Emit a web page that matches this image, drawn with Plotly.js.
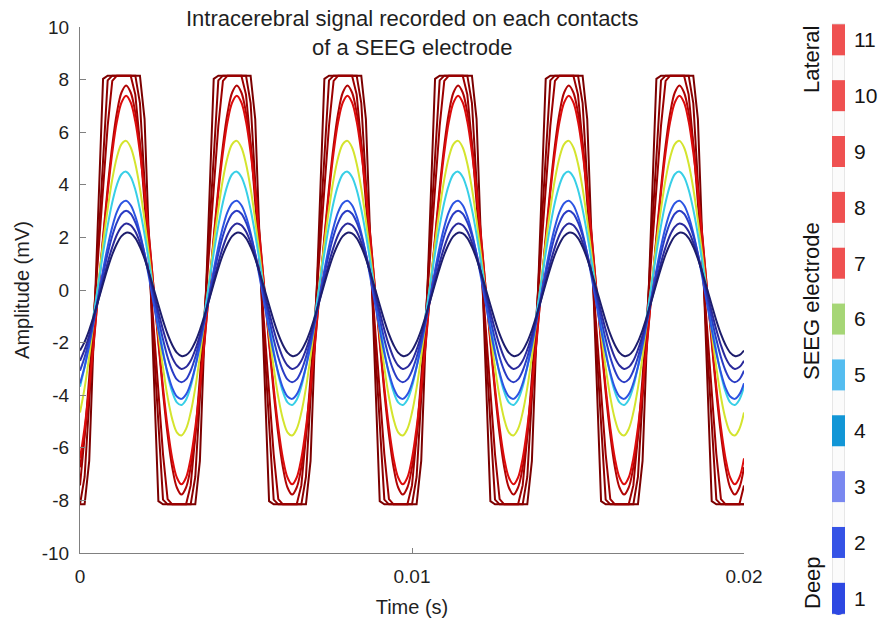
<!DOCTYPE html>
<html>
<head>
<meta charset="utf-8">
<script src="https://cdn.plot.ly/plotly-3.0.1.min.js"></script>
<style>
html,body{margin:0;padding:0;background:#ffffff;}
#chart{width:884px;height:624px;}
</style>
</head>
<body>
<div id="chart"></div>
<script>
// One recorded cycle (1/300 s, 24 samples, starting at t = 0) per contact, in mV
const contact1  = [-2.30,-1.97,-1.52,-0.97,-0.37,0.24,0.83,1.35,1.76,2.05,2.18,2.15,1.97,1.64,1.19,0.64,0.04,-0.57,-1.16,-1.68,-2.09,-2.38,-2.51,-2.48];
const contact2  = [-2.69,-2.27,-1.72,-1.07,-0.36,0.36,1.04,1.63,2.10,2.40,2.53,2.46,2.22,1.80,1.25,0.60,-0.11,-0.83,-1.51,-2.10,-2.57,-2.87,-3.00,-2.93];
const contact3  = [-3.07,-2.56,-1.88,-1.09,-0.25,0.59,1.38,2.06,2.57,2.90,3.01,2.90,2.57,2.06,1.38,0.59,-0.25,-1.09,-1.88,-2.56,-3.07,-3.40,-3.51,-3.40];
const contact4  = [-3.55,-2.92,-2.11,-1.19,-0.21,0.76,1.65,2.40,2.97,3.30,3.39,3.22,2.80,2.17,1.36,0.44,-0.54,-1.51,-2.40,-3.15,-3.72,-4.05,-4.14,-3.97];
const contact5  = [-3.68,-2.93,-1.98,-0.90,0.26,1.40,2.45,3.34,4.00,4.40,4.50,4.30,3.81,3.06,2.11,1.03,-0.13,-1.27,-2.32,-3.21,-3.87,-4.27,-4.37,-4.17];
const contact6  = [-4.66,-3.72,-2.52,-1.14,0.32,1.76,3.08,4.21,5.05,5.55,5.67,5.42,4.80,3.86,2.66,1.28,-0.18,-1.62,-2.94,-4.07,-4.91,-5.41,-5.53,-5.28];
const contact7  = [-6.40,-5.22,-3.69,-1.91,0.00,1.91,3.69,5.22,6.40,7.13,7.39,7.13,6.40,5.22,3.69,1.91,0.00,-1.91,-3.69,-5.22,-6.40,-7.13,-7.39,-7.13];
const contact8  = [-6.74,-5.50,-3.89,-2.01,0.00,2.01,3.89,5.50,6.74,7.51,7.78,7.51,6.74,5.50,3.89,2.01,0.00,-2.01,-3.89,-5.50,-6.74,-7.51,-7.78,-7.51];
const contact9  = [-7.43,-5.56,-3.32,-0.85,1.68,4.10,6.24,7.95,8.15,8.15,8.15,8.15,7.43,5.56,3.32,0.85,-1.68,-4.10,-6.24,-7.95,-8.15,-8.15,-8.15,-8.15];
const contact10 = [-8.15,-7.11,-4.24,-1.08,2.15,5.24,7.97,8.15,8.15,8.15,8.15,8.15,8.15,7.11,4.24,1.08,-2.15,-5.24,-7.97,-8.15,-8.15,-8.15,-8.15,-8.15];
const contact11 = [-8.15,-8.15,-6.50,-1.66,3.30,8.03,8.15,8.15,8.15,8.15,8.15,8.15,8.15,8.15,6.50,1.66,-3.30,-8.03,-8.15,-8.15,-8.15,-8.15,-8.15,-8.15];

const contactNumbers = [1,2,3,4,5,6,7,8,9,10,11];
const cycleDuration = 1/300;   // s
const cycleCount = 6;
const xTickValues = [0, 0.01, 0.02];
const xTickLabels = ['0', '0.01', '0.02'];
const yTickValues = [-10,-8,-6,-4,-2,0,2,4,6,8,10];
const yTickLabels = ['-10','-8','-6','-4','-2','0','2','4','6','8','10'];
const electrodeSideLabels = ['Lateral', 'SEEG electrode', 'Deep'];
const chartTitle = 'Intracerebral signal recorded on each contacts<br>of a SEEG electrode';

// ---- styles ----
const curveColors = ['#1d1d6c','#2a2a9c','#2a3cc4','#2c54e2','#38cfe6','#d4e42e','#dc0c0c','#b00404','#9c0000','#8c0000','#7c0000'];
const contactColors = ['#2d48e2','#3553e6','#7a88f0','#1296d6','#55bdf0','#a6d676','#ef5151','#ef5151','#ef5151','#ef5151','#ef5151'];
const FONT = '"Liberation Sans", Arial, Helvetica, sans-serif';
const TXT = '#1f1f1f';

const cycles = [contact1,contact2,contact3,contact4,contact5,contact6,contact7,contact8,contact9,contact10,contact11];

function buildSeries(cycle) {
  const n = cycle.length;
  const t = [], v = [];
  for (let c = 0; c < cycleCount; c++) {
    for (let k = 0; k < n; k++) {
      t.push((c * n + k) * cycleDuration / n);
      v.push(cycle[k]);
    }
  }
  t.push(cycleCount * cycleDuration);
  v.push(cycle[0]);
  return {t, v};
}

const traces = [];
for (let i = cycles.length - 1; i >= 0; i--) {
  const s = buildSeries(cycles[i]);
  const clipped = i >= 8;
  traces.push({
    type: 'scatter', mode: 'lines', x: s.t, y: s.v,
    xaxis: 'x', yaxis: 'y',
    line: {color: curveColors[i], width: 2, shape: clipped ? 'linear' : 'spline', smoothing: 1},
    name: 'Contact ' + contactNumbers[i], showlegend: false, hoverinfo: 'skip'
  });
}

// electrode contacts as bars on a side axis
traces.push({
  type: 'bar', orientation: 'h',
  y: contactNumbers, x: contactNumbers.map(() => 1),
  width: 0.555,
  marker: {color: contactColors, line: {width: 0}},
  xaxis: 'x2', yaxis: 'y2', showlegend: false, hoverinfo: 'skip'
});

const W = 884, H = 624;
const layout = {
  width: W, height: H,
  margin: {l: 0, r: 0, t: 0, b: 0, pad: 0},
  paper_bgcolor: '#ffffff', plot_bgcolor: 'rgba(0,0,0,0)',
  font: {family: FONT, color: TXT, size: 19},
  showlegend: false,
  xaxis: {
    domain: [80 / W, 744 / W], range: [0, 0.02], anchor: 'y',
    tickvals: xTickValues, ticktext: xTickLabels,
    ticks: 'inside', ticklen: 5, tickcolor: '#808080', tickwidth: 1,
    showline: true, linecolor: '#808080', linewidth: 1,
    showgrid: false, zeroline: false,
    tickfont: {family: FONT, size: 19, color: TXT},
    ticklabelstandoff: 6,
    title: {text: 'Time (s)', font: {family: FONT, size: 20, color: TXT}, standoff: 14}
  },
  yaxis: {
    domain: [(H - 553) / H, (H - 27) / H], range: [-10, 10], anchor: 'x',
    tickvals: yTickValues, ticktext: yTickLabels,
    ticks: 'inside', ticklen: 6, tickcolor: '#808080', tickwidth: 1,
    showline: true, linecolor: '#808080', linewidth: 1,
    showgrid: false, zeroline: false,
    tickfont: {family: FONT, size: 19, color: TXT},
    ticklabelstandoff: 6,
    title: {text: 'Amplitude (mV)', font: {family: FONT, size: 20, color: TXT}, standoff: 6}
  },
  xaxis2: {
    domain: [832 / W, 845 / W], range: [0, 1], anchor: 'y2',
    visible: false, fixedrange: true
  },
  yaxis2: {
    domain: [0, 1], range: [0.54, 11.713], anchor: 'x2', side: 'right',
    tickvals: contactNumbers, ticks: '', showline: false, showgrid: false, zeroline: false,
    tickfont: {family: FONT, size: 21, color: '#141414'},
    ticklabelstandoff: 8
  },
  shapes: [
    {type: 'rect', xref: 'x2', yref: 'y2', x0: 0, x1: 1, y0: 0.72, y1: 11.28,
     line: {color: '#d2d2d2', width: 1}, fillcolor: '#fbfbfb', layer: 'below'},
    {type: 'circle', xref: 'x2', yref: 'y2', x0: 0, x1: 1, y0: 0.70, y1: 0.94,
     line: {width: 0}, fillcolor: contactColors[0], layer: 'above'}
  ],
  annotations: [
    {text: chartTitle, xref: 'paper', yref: 'paper', x: 412 / W, y: 1 - 4 / H,
     xanchor: 'center', yanchor: 'top', showarrow: false, align: 'center',
     font: {family: FONT, size: 22, color: TXT}},
    {text: electrodeSideLabels[0], xref: 'paper', yref: 'paper', x: 812 / W, y: (H - 60) / H,
     textangle: -90, showarrow: false, font: {family: FONT, size: 22, color: '#141414'}, xanchor: 'center', yanchor: 'middle'},
    {text: electrodeSideLabels[1], xref: 'paper', yref: 'paper', x: 812 / W, y: (H - 301) / H,
     textangle: -90, showarrow: false, font: {family: FONT, size: 22, color: '#141414'}, xanchor: 'center', yanchor: 'middle'},
    {text: electrodeSideLabels[2], xref: 'paper', yref: 'paper', x: 812 / W, y: (H - 583) / H,
     textangle: -90, showarrow: false, font: {family: FONT, size: 22, color: '#141414'}, xanchor: 'center', yanchor: 'middle'}
  ]
};

Plotly.newPlot('chart', traces, layout, {staticPlot: true, displayModeBar: false});
</script>
</body>
</html>
